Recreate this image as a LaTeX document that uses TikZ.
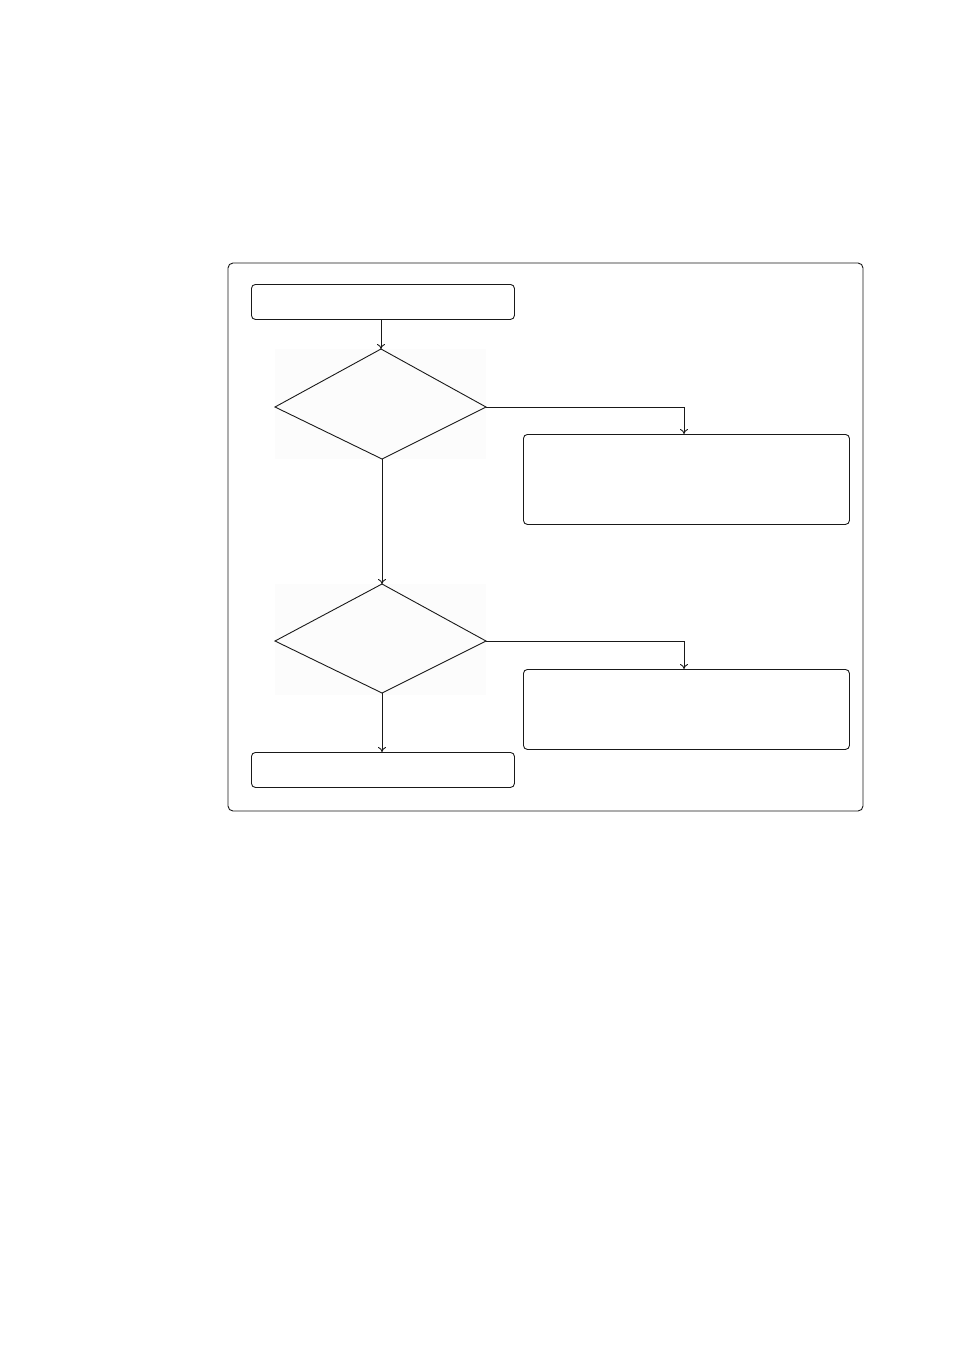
\documentclass[tikz,border=0pt]{standalone}
\usetikzlibrary{arrows.meta}
\begin{document}
\begin{tikzpicture}[x=1pt,y=-1pt,
  ln/.style={line width=0.9pt,draw=black!90},
  procbox/.style={ln,rounded corners=4pt},
  dec/.style={ln},
  bgpad/.style={fill=black!1,draw=none},
  conn/.style={ln,-{To[length=5pt,width=8pt]}}]
\useasboundingbox (0,0) rectangle (954,1351);
\fill[white] (0,0) rectangle (954,1351);
% outer frame
\draw[ln,rounded corners=5pt] (228,263) rectangle (863,811);
% faint backdrops of the decisions
\fill[bgpad] (275,349) rectangle (486,459);
\fill[bgpad] (275,584) rectangle (486,695);
% boxes
\node[procbox,minimum width=263pt,minimum height=35pt,anchor=north west,inner sep=0pt] (b1) at (251,284) {};
\node[procbox,minimum width=326pt,minimum height=90pt,anchor=north west,inner sep=0pt] (b2) at (523,434) {};
\node[procbox,minimum width=326pt,minimum height=80pt,anchor=north west,inner sep=0pt] (b3) at (523,669) {};
\node[procbox,minimum width=263pt,minimum height=35pt,anchor=north west,inner sep=0pt] (b4) at (251,752) {};
% decisions
\coordinate (d1t) at (381,349);
\coordinate (d1r) at (486,407);
\coordinate (d1b) at (382,459);
\coordinate (d1l) at (275,407);
\draw[dec] (d1t) -- (d1r) -- (d1b) -- (d1l) -- cycle;
\coordinate (d2t) at (382,584);
\coordinate (d2r) at (486,641);
\coordinate (d2b) at (382,693);
\coordinate (d2l) at (275,641);
\draw[dec] (d2t) -- (d2r) -- (d2b) -- (d2l) -- cycle;
% connectors
\draw[conn] (b1.south -| d1t) -- (d1t);
\draw[conn] (d1r) -| (b2.north -| 684,0);
\draw[conn] (d1b) -- (d2t);
\draw[conn] (d2r) -| (b3.north -| 684,0);
\draw[conn] (d2b) -- (b4.north -| d2b);
\end{tikzpicture}
\end{document}
